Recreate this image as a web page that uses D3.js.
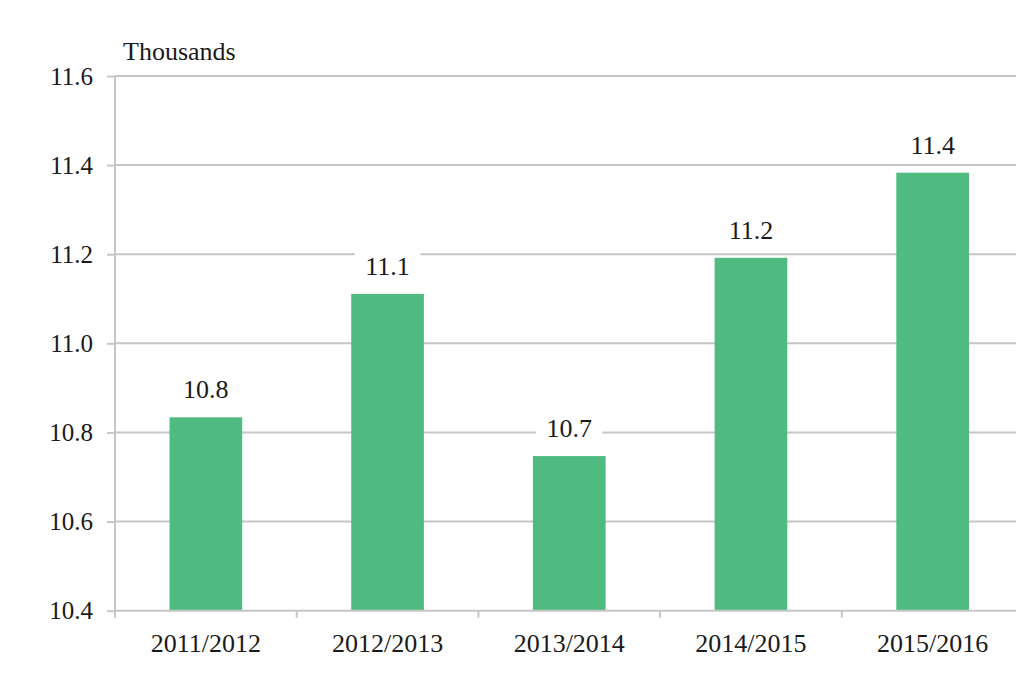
<!DOCTYPE html>
<html><head><meta charset="utf-8">
<script src="https://cdn.jsdelivr.net/npm/d3@7"></script>
<style>body{margin:0;background:#fff}svg{display:block}svg text{font-family:"Liberation Serif",Tinos,"Times New Roman","DejaVu Serif",serif !important;fill:#1a1a1a}</style>
</head><body>
<script>
const categories = ["2011/2012","2012/2013","2013/2014","2014/2015","2015/2016"];
const values = [10.834, 11.111, 10.747, 11.192, 11.383];
const valueLabels = ["10.8","11.1","10.7","11.2","11.4"];
const yTicks = [10.4,10.6,10.8,11.0,11.2,11.4,11.6];
const unitLabel = "Thousands";

(function(){
const W=1016,H=688;
const mLeft=115, mRight=1023.5, mTop=76, mBottom=610.7;
const svg=d3.select("body").append("svg").attr("width",W).attr("height",H);
const x=d3.scaleBand().domain(categories).range([mLeft,mRight]).paddingInner(0.6).paddingOuter(0.3);
const y=d3.scaleLinear().domain([10.4,11.6]).range([mBottom,mTop]);
const grid="#c6c6c6";
const fs=26;

svg.append("g").selectAll("line").data(yTicks.slice(1)).join("line")
 .attr("x1",mLeft).attr("x2",W).attr("y1",d=>y(d)).attr("y2",d=>y(d))
 .attr("stroke",grid).attr("stroke-width",2);

const ya=svg.append("g").attr("transform",`translate(${mLeft},0)`)
 .call(d3.axisLeft(y).tickValues(yTicks).tickFormat(d3.format(".1f")).tickSize(8).tickPadding(14));
ya.attr("font-family",null).attr("font-size",null);
ya.select(".domain").attr("stroke",grid).attr("stroke-width",2).attr("d",`M0,${mTop}V${mBottom}`);
ya.selectAll(".tick line").attr("stroke",grid).attr("stroke-width",2);
ya.selectAll(".tick text").attr("font-size",25).attr("fill","#1a1a1a");

svg.append("g").selectAll("rect").data(values).join("rect")
 .attr("x",(d,i)=>x(categories[i])).attr("width",x.bandwidth())
 .attr("y",d=>y(d)).attr("height",d=>y(10.4)-y(d))
 .attr("fill","#50bb80");

svg.append("line").attr("x1",mLeft).attr("x2",W).attr("y1",mBottom).attr("y2",mBottom)
 .attr("stroke",grid).attr("stroke-width",2);
const step=x.step();
svg.append("g").selectAll("line").data(d3.range(categories.length+1)).join("line")
 .attr("x1",i=>mLeft+i*step).attr("x2",i=>mLeft+i*step).attr("y1",mBottom).attr("y2",mBottom+7)
 .attr("stroke",grid).attr("stroke-width",2);
svg.append("g").selectAll("text").data(categories).join("text")
 .attr("x",d=>x(d)+x.bandwidth()/2).attr("y",mBottom+41)
 .attr("text-anchor","middle").attr("font-size",fs).text(d=>d);

const lg=svg.append("g").selectAll("g").data(values).join("g")
 .attr("transform",(d,i)=>`translate(${x(categories[i])+x.bandwidth()/2},${y(d)-19})`);
lg.append("rect").attr("x",-33).attr("y",-22).attr("width",66).attr("height",27).attr("fill","#fff");
lg.append("text").attr("text-anchor","middle").attr("font-size",fs).text((d,i)=>valueLabels[i]);

svg.append("text").attr("x",123).attr("y",60).attr("font-size",fs).text(unitLabel);
})();
</script>
</body></html>
